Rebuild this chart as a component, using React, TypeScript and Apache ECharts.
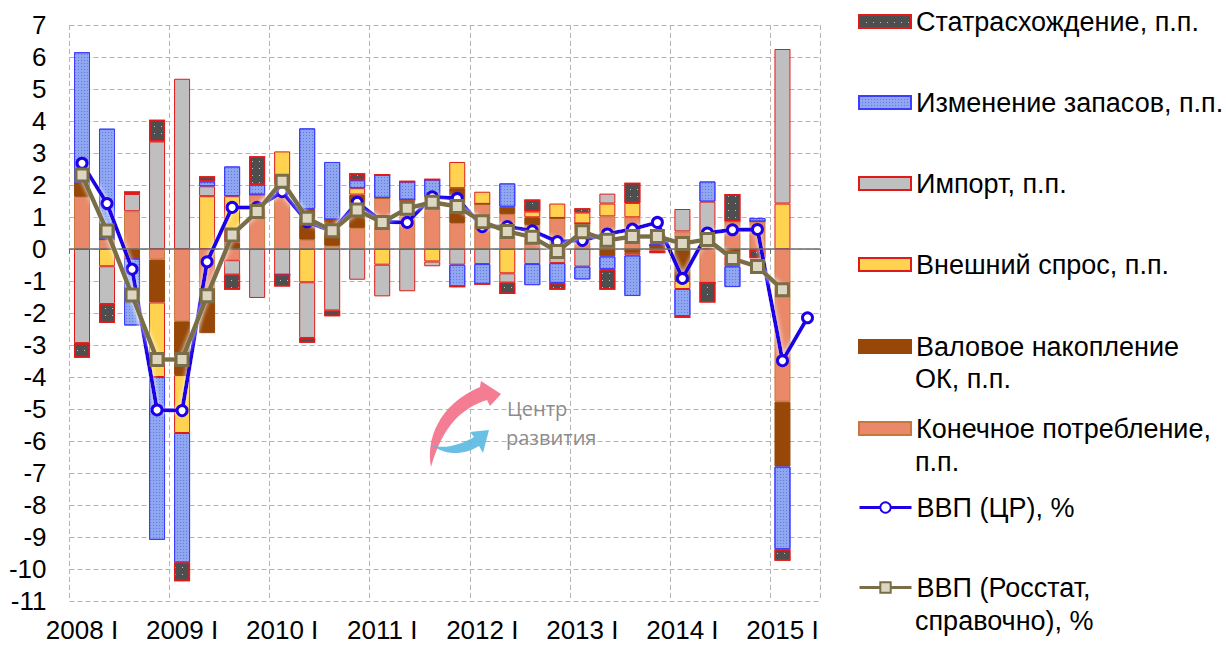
import React, { useEffect, useRef } from 'react';
import * as echarts from 'echarts';

const categories = [
  '2008 I', '2008 II', '2008 III', '2008 IV',
  '2009 I', '2009 II', '2009 III', '2009 IV',
  '2010 I', '2010 II', '2010 III', '2010 IV',
  '2011 I', '2011 II', '2011 III', '2011 IV',
  '2012 I', '2012 II', '2012 III', '2012 IV',
  '2013 I', '2013 II', '2013 III', '2013 IV',
  '2014 I', '2014 II', '2014 III', '2014 IV',
  '2015 I', '2015 II',
];

const consumption = [1.63, 0.3, 1.18, -0.33, -2.26, -1.2, -0.35, 1.7, 1.75, 0.29, 0.1, 0.66, 1.6, 1.54, 1.65, 0.81, 1.41, 1.09, 0.75, 0.97, 0.8, 1.02, 0.99, -0.05, 0.55, -1.05, 0.86, 0.86, -4.77, null];
const investment = [0.42, 0, -0.3, -1.34, -1.68, -1.43, 0.2, 0, 0.25, 0.96, 0.82, 1.04, 0, 0, 0, 1.09, 0, 0.23, 0.24, 0, 0, -0.23, -0.12, 0.12, -1.0, 0, -0.3, 0, -2.03, null];
const externalDemand = [0, -0.54, 0, -2.33, -1.81, 1.65, 1.45, 0, 1.05, -1.04, 0, 0.2, -0.49, 0, -0.39, 0.82, 0.38, -0.76, 0.18, 0.45, 0.34, 0.4, 0.45, 0, -0.25, 0, 0, -0.05, 1.42, null];
const imports = [-2.94, -1.18, 0.54, 3.36, 5.32, 0.31, -0.45, -1.53, -0.8, -1.74, -1.92, -0.96, -0.99, -1.32, -0.15, -0.49, -0.47, -0.29, -0.47, -0.44, -0.55, 0.31, -0.08, 0, 0.7, 1.48, -0.24, 0, 4.83, null];
const stocks = [4.1, 3.46, -2.09, -5.09, -4.05, 0.15, 0.93, 0.31, 0, 2.52, 1.8, 0.25, 0.72, 0.57, 0.52, -0.68, -0.62, 0.73, -0.66, -0.62, -0.4, -0.4, -1.27, 0, -0.85, 0.63, -0.65, 0.11, -2.58, null];
const statDiscrepancy = [-0.46, -0.59, 0.08, 0.68, -0.58, 0.16, -0.47, 0.89, -0.37, -0.15, -0.18, 0.22, 0, 0, 0, 0, 0, -0.36, 0.38, -0.21, 0.13, -0.64, 0.63, -0.08, -0.05, -0.62, 0.86, -0.24, -0.36, null];
const gdpCR = [2.68, 1.42, -0.63, -5.03, -5.05, -0.4, 1.3, 1.3, 1.79, 0.85, 0.55, 1.46, 0.85, 0.83, 1.63, 1.58, 0.7, 0.7, 0.57, 0.23, 0.27, 0.47, 0.62, 0.83, -0.92, 0.5, 0.6, 0.61, -3.49, -2.15];
const gdpRosstat = [2.31, 0.56, -1.44, -3.45, -3.45, -1.46, 0.44, 1.17, 2.12, 0.96, 0.57, 1.22, 0.83, 1.27, 1.46, 1.33, 0.85, 0.55, 0.37, -0.08, 0.54, 0.27, 0.39, 0.39, 0.17, 0.3, -0.3, -0.55, -1.27, null];

const yMin = -11;
const yMax = 7;
const yStep = 1;

const seriesNames = {
  stat: 'Статрасхождение, п.п.',
  stocks: 'Изменение запасов, п.п.',
  imports: 'Импорт, п.п.',
  ext: 'Внешний спрос, п.п.',
  inv: 'Валовое накопление ОК, п.п.',
  cons: 'Конечное потребление, п.п.',
  cr: 'ВВП (ЦР), %',
  rs: 'ВВП (Росстат, справочно), %',
};

const FONT = '"Liberation Sans", Arial, sans-serif';

const pinkD = 'M 431 467 C 426 440, 438 405, 480 387 L 481 381 L 501 394 L 490 406 L 487 400 C 462 408, 443 425, 431 467 Z';
const blueD = 'M 432 445 C 445 450, 462 444, 474 437 L 470 432 L 489 430 L 483 453 L 479 446 C 465 455, 445 456, 432 445 Z';

export default function App() {
  const ref = useRef<HTMLDivElement>(null);

  useEffect(() => {
    if (!ref.current) return;
    echarts.graphic.registerShape('logoPink', echarts.graphic.extendPath(pinkD, {}));
    echarts.graphic.registerShape('logoBlue', echarts.graphic.extendPath(blueD, {}));
    const chart = echarts.init(ref.current, null, { renderer: 'svg' });

    const red = '#e01a1a';
    const barBase = { type: 'bar', stack: 'total', barWidth: 16, xAxisIndex: 0, yAxisIndex: 0 };

    const legendItem = (name: string, top: number, label: string, isBar: boolean) => ({
      data: [name],
      left: 858,
      top,
      padding: 0,
      orient: 'vertical',
      selectedMode: false,
      itemWidth: 52,
      itemHeight: 13,
      itemGap: 5,
      ...(isBar ? { icon: 'rect' } : { lineStyle: { width: 3 } }),
      formatter: () => label,
      textStyle: { fontFamily: FONT, fontSize: 27, color: '#000', lineHeight: 27 },
    });

    const option: any = {
      animation: false,
      backgroundColor: '#fff',
      textStyle: { fontFamily: FONT },
      grid: { left: 69.5, right: 406, top: 25, bottom: 45, containLabel: false },
      xAxis: [
        {
          type: 'category',
          data: categories,
          position: 'bottom',
          axisLine: { show: false, onZero: false },
          axisTick: { show: false },
          axisLabel: { interval: 3, fontSize: 26, color: '#000', fontFamily: FONT, margin: 16 },
          splitLine: { show: true, interval: 3, lineStyle: { color: '#b4b4b4', type: [5, 3], width: 1 } },
        },
        {
          type: 'category',
          data: categories,
          position: 'top',
          z: 5,
          axisLine: { show: true, onZero: true, lineStyle: { color: '#6e6e6e', width: 1.5 } },
          axisTick: { show: true, interval: 3, inside: true, length: 5, lineStyle: { color: '#6e6e6e' } },
          axisLabel: { show: false },
          splitLine: { show: false },
        },
      ],
      yAxis: {
        type: 'value',
        min: yMin,
        max: yMax,
        interval: yStep,
        axisLine: { show: false },
        axisTick: { show: false },
        axisLabel: { fontSize: 26, color: '#000', fontFamily: FONT, margin: 23 },
        splitLine: { show: true, lineStyle: { color: '#b4b4b4', type: [5, 3], width: 1 } },
      },
      legend: [
        legendItem(seriesNames.stat, 8, 'Статрасхождение, п.п.', true),
        legendItem(seriesNames.stocks, 89, 'Изменение запасов, п.п.', true),
        legendItem(seriesNames.imports, 170, 'Импорт, п.п.', true),
        legendItem(seriesNames.ext, 251, 'Внешний спрос, п.п.', true),
        legendItem(seriesNames.inv, 333, 'Валовое накопление', true),
        legendItem(seriesNames.cons, 415, 'Конечное потребление,', true),
        legendItem(seriesNames.cr, 494, 'ВВП (ЦР), %', false),
        legendItem(seriesNames.rs, 574, 'ВВП (Росстат,', false),
      ],
      graphic: [
        { type: 'text', left: 915, top: 365, style: { text: 'ОК, п.п.', fontSize: 27, fontFamily: FONT, fill: '#000' } },
        { type: 'text', left: 915, top: 448, style: { text: 'п.п.', fontSize: 27, fontFamily: FONT, fill: '#000' } },
        { type: 'text', left: 915, top: 607, style: { text: 'справочно), %', fontSize: 27, fontFamily: FONT, fill: '#000' } },
        { type: 'logoPink', x: 0, y: 0, z: 1, style: { fill: 'rgba(243,110,135,0.9)' } },
        { type: 'logoBlue', x: 0, y: 0, z: 1, style: { fill: 'rgba(90,185,225,0.9)' } },
        { type: 'text', left: 507, top: 398, z: 1, style: { text: 'Центр', fontSize: 20, fontFamily: '"Open Sans", sans-serif', fill: '#8c8c8c' } },
        { type: 'text', left: 506, top: 427, z: 1, style: { text: 'развития', fontSize: 20, fontFamily: '"Open Sans", sans-serif', fill: '#8c8c8c' } },
      ],
      series: [
        {
          ...barBase,
          name: seriesNames.cons,
          data: consumption,
          itemStyle: { color: '#e9896a', borderColor: '#c8773f', borderWidth: 1 },
        },
        {
          ...barBase,
          name: seriesNames.inv,
          data: investment,
          itemStyle: { color: '#974707', borderColor: '#974707', borderWidth: 1 },
        },
        {
          ...barBase,
          name: seriesNames.ext,
          data: externalDemand,
          itemStyle: { color: '#ffd24f', borderColor: red, borderWidth: 1 },
        },
        {
          ...barBase,
          name: seriesNames.imports,
          data: imports,
          itemStyle: { color: '#bfbfbf', borderColor: red, borderWidth: 1 },
        },
        {
          ...barBase,
          name: seriesNames.stocks,
          data: stocks,
          itemStyle: {
            color: '#8ea7f0',
            borderColor: '#3d3dff',
            borderWidth: 1,
            decal: { symbol: 'rect', symbolSize: 1, color: 'rgba(50,60,210,0.45)', dashArrayX: [1, 2], dashArrayY: [1, 2], rotation: 0 },
          },
        },
        {
          ...barBase,
          name: seriesNames.stat,
          data: statDiscrepancy,
          itemStyle: {
            color: '#4e4e4e',
            borderColor: red,
            borderWidth: 1.5,
            decal: { symbol: 'rect', symbolSize: 1, color: 'rgba(210,210,210,0.85)', dashArrayX: [1, 6], dashArrayY: [1, 6], rotation: 0 },
          },
        },
        {
          type: 'line',
          name: seriesNames.cr,
          data: gdpCR,
          z: 4,
          color: '#1e00e6',
          symbol: 'circle',
          symbolSize: 10,
          lineStyle: { color: '#1e00e6', width: 4, shadowColor: 'rgba(255,255,255,0.95)', shadowBlur: 5 },
          itemStyle: { color: '#ffffff', borderColor: '#1e00e6', borderWidth: 3 },
        },
        {
          type: 'line',
          name: seriesNames.rs,
          data: gdpRosstat,
          z: 5,
          color: '#7a6e47',
          symbol: 'rect',
          symbolSize: 12,
          connectNulls: false,
          lineStyle: { color: '#7a6e47', width: 4.5, shadowColor: 'rgba(255,255,255,0.95)', shadowBlur: 5 },
          itemStyle: { color: '#dcd6c2', borderColor: '#7a6e47', borderWidth: 3 },
        },
      ],
    };

    chart.setOption(option);
    return () => chart.dispose();
  }, []);

  return (
    <div
      ref={ref}
      style={{ position: 'fixed', left: 0, top: 0, width: 1226, height: 646, background: '#fff' }}
    />
  );
}
